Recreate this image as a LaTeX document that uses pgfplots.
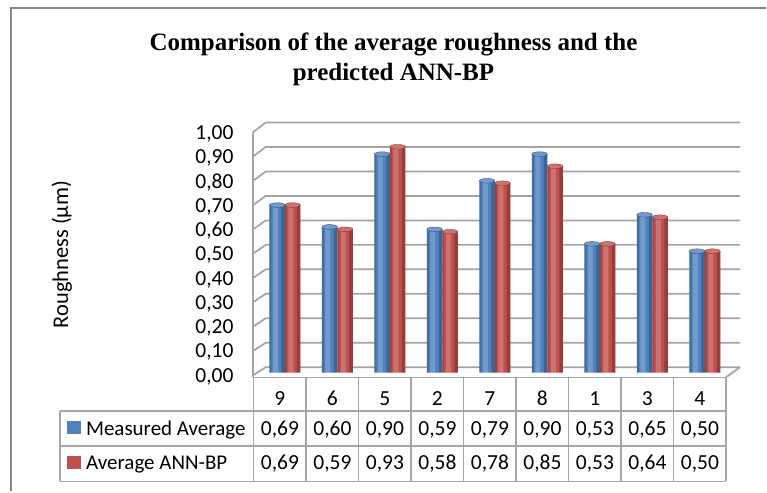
\documentclass[border=0pt]{standalone}
\usepackage{pgfplots}
\usepackage{pgfplotstable}
\pgfplotsset{compat=1.18}
\usepackage{fontspec}
\setmainfont{Carlito}
\newfontfamily\titlefont{Liberation Serif}
\definecolor{barblue}{HTML}{4F81BD}
\definecolor{barred}{HTML}{C0504D}
\definecolor{gridgray}{HTML}{A3A3A3}
\definecolor{framegray}{HTML}{868686}
\definecolor{tablegray}{HTML}{A6A6A6}

\pgfplotstableread{
x meas ann
0 0.69 0.69
1 0.60 0.59
2 0.90 0.93
3 0.59 0.58
4 0.79 0.78
5 0.90 0.85
6 0.53 0.53
7 0.65 0.64
8 0.50 0.50
}\datatable

\begin{document}
\begin{tikzpicture}[x=1pt,y=1pt]
\path (0,0) rectangle (767,492);
% frame
\draw[framegray, line width=2pt] (11,0) -- (11,484) -- (767,484);
% title
\node[font=\titlefont\bfseries\fontsize{25}{30}\selectfont, align=center] at (394,433)
  {Comparison of the average roughness and the\\predicted ANN-BP};
% y label
\node[rotate=90, font=\fontsize{22.5}{27}\selectfont] at (62,237) {Roughness (µm)};
% back wall grid and left wall
\foreach \v in {0,...,10} {
  \draw[gridgray, line width=1.7pt] (253,116+\v*24.33) -- (266,124.3+\v*24.5) -- (741,124.3+\v*24.5);
}
\draw[gridgray, line width=1.7pt] (253,114.3) -- (253,359.3);
\draw[gridgray, line width=1.7pt] (727,114.3) -- (741,124.3);
% table
\begin{scope}[tablegray, line width=1.4pt]
\draw (254,114.3) -- (727,114.3);
\draw (60,80.3) -- (727,80.3);
\draw (60,45.5) -- (727,45.5);
\draw (60,10) -- (727,10);
\draw (60,80.3) -- (60,10);
\foreach \k in {0,...,9} { \draw (254+\k*52.56,114.3) -- (254+\k*52.56,10); }
\end{scope}
% legend keys
\fill[barblue] (67.3,57) rectangle (80.7,70);
\fill[barred] (67.3,22) rectangle (80.7,35);
\node[anchor=base west, inner sep=0pt, font=\fontsize{21}{25}\selectfont] at (86,56.3) {Measured Average};
\node[anchor=base west, inner sep=0pt, font=\fontsize{21}{25}\selectfont] at (86,22) {Average ANN-BP};
% values
\foreach \t [count=\i from 0] in {{0,69},{0,60},{0,90},{0,59},{0,79},{0,90},{0,53},{0,65},{0,50}} {
  \node[anchor=base, inner sep=0pt, font=\fontsize{21.5}{25}\selectfont] at (280.3+\i*52.56,56.3) {\t};
}
\foreach \t [count=\i from 0] in {{0,69},{0,59},{0,93},{0,58},{0,78},{0,85},{0,53},{0,64},{0,50}} {
  \node[anchor=base, inner sep=0pt, font=\fontsize{21.5}{25}\selectfont] at (280.3+\i*52.56,22) {\t};
}
\begin{axis}[
  at={(254pt,119pt)}, anchor=south west,
  scale only axis, width=473pt, height=243pt,
  xmin=-0.5, xmax=8.5, ymin=0, ymax=1,
  axis line style={draw=none}, tick style={draw=none},
  xtick={0,...,8}, xticklabels={9,6,5,2,7,8,1,3,4},
  xticklabel style={anchor=base, inner sep=0pt, yshift=-33pt},
  ytick={0,0.1,...,1.01},
  yticklabel style={inner sep=0pt, xshift=-20pt, yshift=-4pt,
    /pgf/number format/.cd, fixed, fixed zerofill, precision=2, use comma, assume math mode=true},
  tick label style={font=\fontsize{21.5}{25}\selectfont},
  clip=false,
]
% Measured Average (blue cylinders)
\addplot[ybar, bar width=15.5pt, bar shift=-2.75pt, draw=none, fill=barblue] table[x=x, y=meas] {\datatable};
\addplot[ybar, bar width=5pt, bar shift=-4.5pt, draw=none, fill=white, fill opacity=0.2] table[x=x, y=meas] {\datatable};
\addplot[ybar, bar width=3.5pt, bar shift=3.25pt, draw=none, fill=black, fill opacity=0.22] table[x=x, y=meas] {\datatable};
\addplot[ybar, bar width=2pt, bar shift=-9.5pt, draw=none, fill=black, fill opacity=0.15] table[x=x, y=meas] {\datatable};
\addplot[only marks, mark=*, mark size=7.75pt,
  mark options={xshift=-2.75pt, yscale=0.3, fill=barblue!80!white, draw=barblue!70!black, line width=0.4pt}]
  table[x=x, y=meas] {\datatable};
% Average ANN-BP (red cylinders)
\addplot[ybar, bar width=15.5pt, bar shift=12.75pt, draw=none, fill=barred] table[x=x, y=ann] {\datatable};
\addplot[ybar, bar width=5pt, bar shift=11pt, draw=none, fill=white, fill opacity=0.2] table[x=x, y=ann] {\datatable};
\addplot[ybar, bar width=3.5pt, bar shift=18.75pt, draw=none, fill=black, fill opacity=0.22] table[x=x, y=ann] {\datatable};
\addplot[ybar, bar width=2pt, bar shift=6pt, draw=none, fill=black, fill opacity=0.15] table[x=x, y=ann] {\datatable};
\addplot[only marks, mark=*, mark size=7.75pt,
  mark options={xshift=12.75pt, yscale=0.3, fill=barred!80!white, draw=barred!70!black, line width=0.4pt}]
  table[x=x, y=ann] {\datatable};
\end{axis}
\end{tikzpicture}
\end{document}
